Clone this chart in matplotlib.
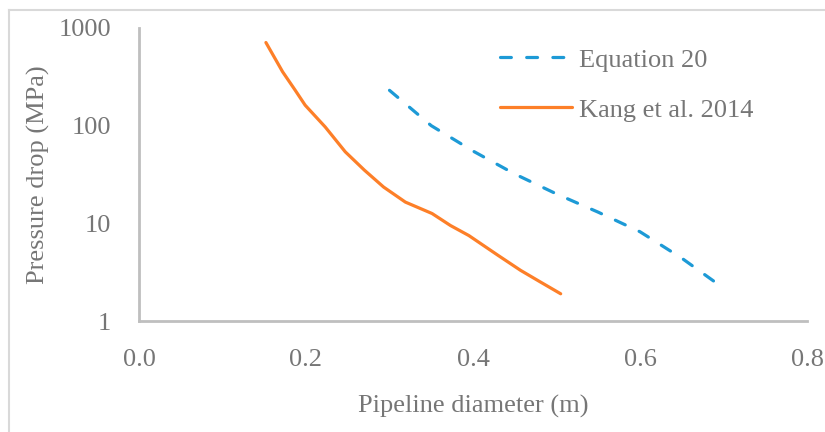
import numpy as np
import matplotlib
matplotlib.use('Agg')
import matplotlib.pyplot as plt
from matplotlib.lines import Line2D

# data
eq20_d = [0.30, 0.35, 0.40, 0.45, 0.50, 0.55, 0.60, 0.65, 0.69]
eq20_dp = [230, 100, 55, 32, 20, 13, 8.2, 4.4, 2.5]

kang_d = [0.152, 0.172, 0.187, 0.199, 0.223, 0.247, 0.27, 0.293, 0.319,
          0.351, 0.373, 0.395, 0.43, 0.457, 0.481, 0.505]
kang_dp = [710, 356, 231, 162, 97, 54, 35, 23.5, 16.5,
           12.6, 9.5, 7.5, 4.7, 3.3, 2.5, 1.9]

x_ticks = [0.0, 0.2, 0.4, 0.6, 0.8]
y_ticks = [1, 10, 100, 1000]

txt = '#767676'
grey = '#bfbfbf'
fs = 19
plt.rcParams['font.family'] = ['Liberation Serif', 'DejaVu Serif']

fig = plt.figure(figsize=(8.25, 4.32), dpi=100)
ax = fig.add_axes([139 / 825, 1 - 321 / 432, 668 / 825, 293 / 432])

ax.plot(eq20_d, eq20_dp, color='#1d9ad6', lw=2.3, dashes=(3.4, 4.8),
        dash_capstyle='round', label='Equation 20')
ax.plot(kang_d, kang_dp, color='#fd7f28', lw=2.3, solid_capstyle='round',
        label='Kang et al. 2014')

ax.set_yscale('log')
ax.set_xlim(0, 0.8)
ax.set_ylim(1, 1000)
ax.set_xticks(x_ticks)
ax.set_xticklabels([f'{v:.1f}' for v in x_ticks])
ax.set_yticks(y_ticks)
ax.set_yticklabels([str(v) for v in y_ticks])
ax.minorticks_off()
ax.tick_params(length=0, labelsize=fs, labelcolor=txt)
ax.tick_params(axis='x', pad=20)
ax.tick_params(axis='y', pad=20)

for s in ['top', 'right']:
    ax.spines[s].set_visible(False)
for s in ['left', 'bottom']:
    ax.spines[s].set_color(grey)
    ax.spines[s].set_linewidth(2)

ax.set_xlabel('Pipeline diameter (m)', fontsize=fs, color=txt)
ax.set_ylabel('Pressure drop (MPa)', fontsize=fs, color=txt)
ax.xaxis.set_label_coords(0.5, -0.252)
ax.yaxis.set_label_coords(-0.133, 0.5)

ax.legend(loc='upper left', bbox_to_anchor=(0.54, 0.931), frameon=False,
          fontsize=fs, labelcolor=txt, handlelength=2.75, handletextpad=0.25,
          labelspacing=1.0, borderpad=0, borderaxespad=0)

# outer frame of the chart area
fig.add_artist(Line2D([9 / 825, 9 / 825], [0, 1 - 10 / 432],
                      transform=fig.transFigure, color='#d9d9d9', lw=1.5))
fig.add_artist(Line2D([9 / 825, 1], [1 - 10 / 432, 1 - 10 / 432],
                      transform=fig.transFigure, color='#d9d9d9', lw=1.5))

fig.savefig('out.png', dpi=100)
